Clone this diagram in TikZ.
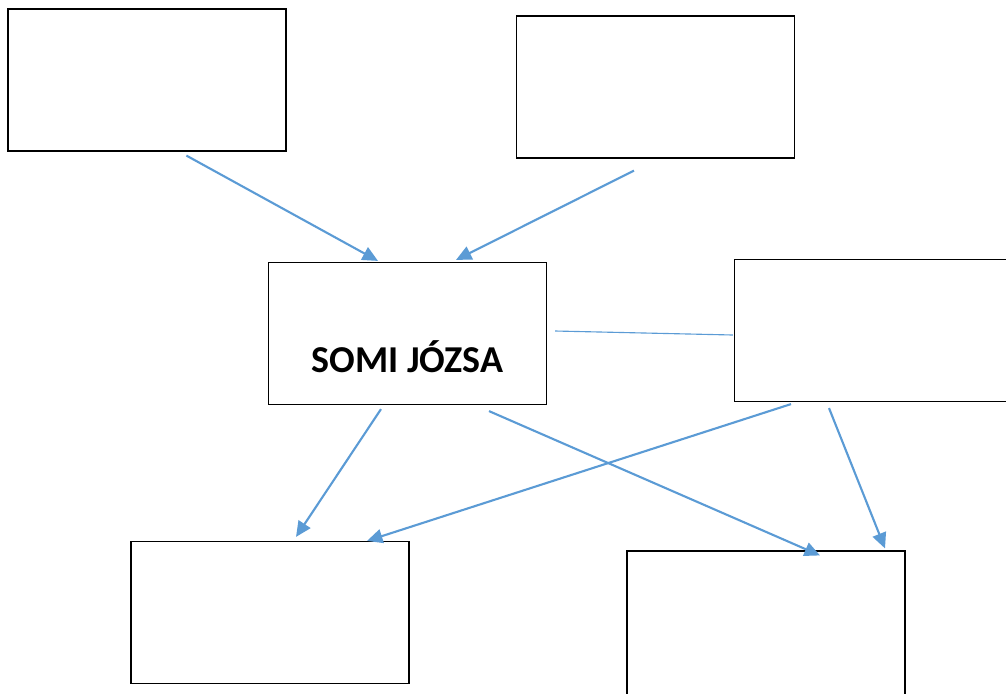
\documentclass[tikz,border=0pt]{standalone}
\usepackage{fontspec}
\setmainfont{Carlito}
\usetikzlibrary{arrows.meta,calc}
\definecolor{linkblue}{RGB}{91,155,213}
\begin{document}
\begin{tikzpicture}[x=0.025cm,y=-0.025cm,
    box/.style={draw=black,line width=0.8pt,fill=white,inner sep=0pt,
        minimum width=6.95cm,minimum height=3.55cm},
    link/.style={draw=linkblue,line width=1.5pt,
        -{Triangle[length=11pt,width=10pt]}},
    thinlink/.style={draw=linkblue,line width=0.8pt}]
    \useasboundingbox (0,0) rectangle (1006,693);
    % boxes
    \node[box] (topleft) at (147,80) {};
    \node[box] (topright) at (655.5,87) {};
    \node[box] (somi) at (407.5,333.5) {};
    \node[font=\bfseries\fontsize{27}{32}\selectfont] (somitext) at (407.5,357) {SOMI JÓZSA};
    \node[box,minimum width=7.4cm] (right) at (882.5,330.5) {};
    \node[box] (botleft) at (270,612.5) {};
    \node[box,minimum height=4cm] (botright) at (766,631) {};
    % connectors
    \draw[link] ($(topleft.south west)+(179,4)$) -- ($(somi.north)+(-29.5,-1)$);
    \draw[link] ($(topright.south)+(-21.5,12)$) -- ($(somi.north)+(48.5,-2)$);
    \draw[thinlink] ($(somi.east)+(8,-2.5)$) -- ($(right.west)+(-1,4.5)$);
    \draw[link] ($(somi.south)+(-26.5,4)$) -- ($(botleft.north)+(26,-4)$);
    \draw[link] ($(somi.south)+(81.5,6)$) -- ($(botright.north)+(54,5)$);
    \draw[link] ($(right.south)+(-91.5,2)$) -- ($(botleft.north)+(97,0)$);
    \draw[link] ($(right.south)+(-53.5,6)$) -- ($(botright.north)+(119,-2)$);
\end{tikzpicture}
\end{document}
